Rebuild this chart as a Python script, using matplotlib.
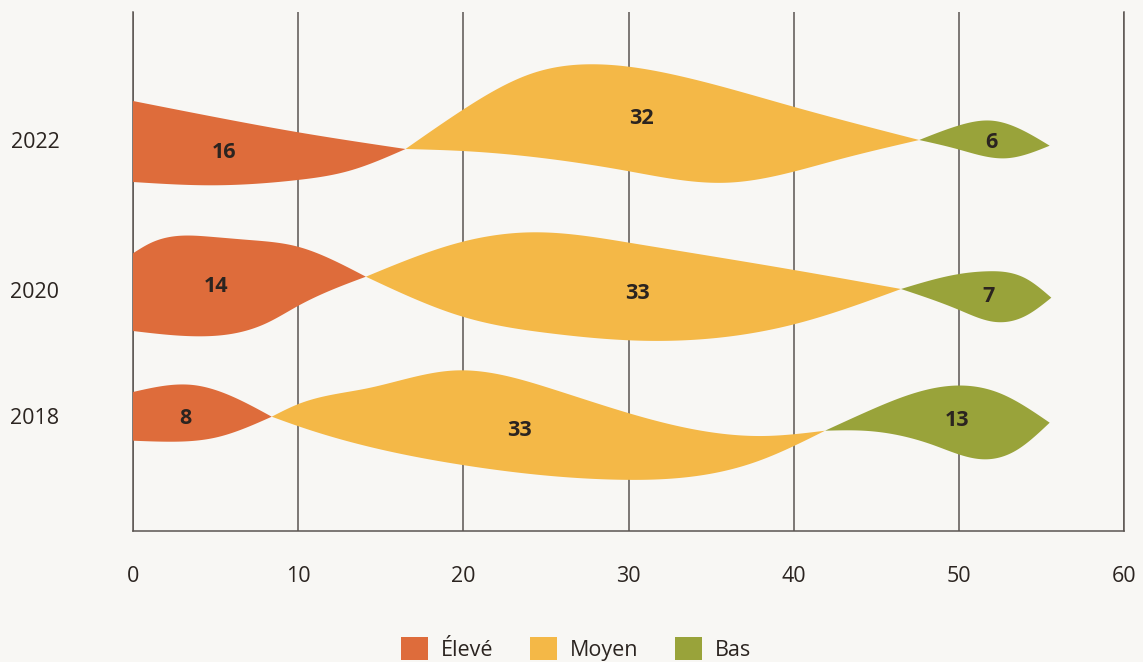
import numpy as np
import matplotlib
matplotlib.use("Agg")
import matplotlib.pyplot as plt
from matplotlib.patches import Patch

# ---------------- data ----------------
years = ["2018", "2020", "2022"]
categories = ["Élevé", "Moyen", "Bas"]
eleve = [8, 14, 16]          # displayed values
moyen = [33, 33, 32]
bas = [13, 7, 6]
# drawn extents of each band
eleve_w = [8.4, 14.1, 16.5]
moyen_w = [33.5, 32.4, 31.1]
bas_w = [13.6, 9.1, 7.9]
x_ticks = [0, 10, 20, 30, 40, 50, 60]

# ---------------- style ----------------
colors = ["#de6c3b", "#f4b847", "#99a33a"]
bg = "#f8f7f4"
txt = "#2b2420"
grid_c = "#5b5551"
FONT = ["Open Sans", "DejaVu Sans"]
FS = 15.5

# vertical layout (inverted axis, units ~ pixels)
row_pos = {"2018": 418, "2020": 292, "2022": 142}

# blob shape profiles: (t along band, offset from row centre)
SHAPES = {
    ("2022", 0): dict(top=[(0, -41), (0.3, -25), (0.6, -10), (1, 7)],
                      bot=[(0, 40), (0.286, 43.3), (0.604, 38), (0.795, 28.7), (1, 7)],
                      lab=(0.333, 11)),
    ("2022", 1): dict(top=[(0, 7), (0.111, -32), (0.247, -68.7), (0.37, -77.7),
                           (0.525, -67), (0.755, -35.3), (1, -2)],
                      bot=[(0, 7), (0.111, 9), (0.432, 29), (0.626, 40.7), (0.84, 18), (1, -2)],
                      lab=(0.459, -24)),
    ("2022", 2): dict(top=[(0, -2), (0.298, -16.3), (0.56, -21.3), (1, 3.7)],
                      bot=[(0, -2), (0.298, 7.3), (0.664, 16.3), (1, 3.7)],
                      lab=(0.55, 0.7)),
    ("2020", 0): dict(top=[(0, -38.7), (0.073, -48.7), (0.33, -55.3), (0.5, -52), (0.708, -45.3),
                           (0.858, -32), (1, -15.3)],
                      bot=[(0, 39), (0.275, 44.3), (0.575, 31), (0.708, 14), (1, -15.3)],
                      lab=(0.356, -5.3)),
    ("2020", 1): dict(top=[(0, -15.3), (0.181, -50.3), (0.314, -59.7), (0.492, -49.3),
                           (0.8, -22), (1, -3)],
                      bot=[(0, -15.3), (0.181, 24.7), (0.344, 41.3), (0.514, 48.7), (0.8, 32.3), (1, -3)],
                      lab=(0.507, 1.3)),
    ("2020", 2): dict(top=[(0, -3), (0.387, -18), (0.573, -20.7), (0.84, -12.7), (1, 5.7)],
                      bot=[(0, -3), (0.387, 18), (0.613, 29.7), (0.84, 23), (1, 5.7)],
                      lab=(0.58, 4.7)),
    ("2018", 0): dict(top=[(0, -26), (0.432, -33), (0.719, -21.3), (1, -1.3)],
                      bot=[(0, 22.7), (0.245, 23.7), (0.604, 19.3), (1, -1.3)],
                      lab=(0.374, 0.3)),
    ("2018", 1): dict(top=[(0, -1.3), (0.047, -13.7), (0.173, -29.7), (0.33, -47.5), (0.503, -29.7),
                           (0.646, -4.7), (0.889, 18), (1, 12.7)],
                      bot=[(0, -1.3), (0.047, 8), (0.345, 47), (0.625, 61.7), (0.876, 43.7), (1, 12.7)],
                      lab=(0.447, 13)),
    ("2018", 2): dict(top=[(0, 12.7), (0.186, -6.3), (0.57, -32.3), (0.779, -24.7), (1, 4.7)],
                      bot=[(0, 12.7), (0.186, 12.9), (0.481, 27), (0.704, 41.3), (0.854, 32), (1, 4.7)],
                      lab=(0.588, 2)),
}


def natural_spline(x, y, xn):
    x = np.asarray(x, float)
    y = np.asarray(y, float)
    n = len(x)
    h = np.diff(x)
    M = np.zeros(n)
    if n > 2:
        A = np.zeros((n - 2, n - 2))
        r = np.zeros(n - 2)
        for i in range(1, n - 1):
            k = i - 1
            A[k, k] = 2 * (h[i - 1] + h[i])
            if k > 0:
                A[k, k - 1] = h[i - 1]
            if k < n - 3:
                A[k, k + 1] = h[i]
            r[k] = 6 * ((y[i + 1] - y[i]) / h[i] - (y[i] - y[i - 1]) / h[i - 1])
        M[1:-1] = np.linalg.solve(A, r)
    idx = np.clip(np.searchsorted(x, xn) - 1, 0, n - 2)
    hh = h[idx]
    a = x[idx + 1] - xn
    b = xn - x[idx]
    return (M[idx] * a**3 / (6 * hh) + M[idx + 1] * b**3 / (6 * hh)
            + (y[idx] / hh - M[idx] * hh / 6) * a + (y[idx + 1] / hh - M[idx + 1] * hh / 6) * b)


fig = plt.figure(figsize=(11.43, 6.62), dpi=100, facecolor=bg)
ax = fig.add_axes([133 / 1143, (662 - 531) / 662, (1124 - 133) / 1143, (531 - 12) / 662])
ax.set_facecolor(bg)
ax.set_xlim(0, 60)
ax.set_ylim(531, 12)

values = [eleve, moyen, bas]
widths = [eleve_w, moyen_w, bas_w]
tt = np.linspace(0, 1, 400)
for i, yr in enumerate(years):
    yc = row_pos[yr]
    start = 0.0
    for c in range(3):
        w = widths[c][i]
        sh = SHAPES[(yr, c)]
        tp = np.array(sh["top"])
        bt = np.array(sh["bot"])
        ytop = yc + natural_spline(tp[:, 0], tp[:, 1], tt)
        ybot = yc + natural_spline(bt[:, 0], bt[:, 1], tt)
        xs = start + tt * w
        ax.fill(np.concatenate([xs, xs[::-1]]), np.concatenate([ytop, ybot[::-1]]),
                color=colors[c], lw=0, zorder=3)
        lt, ld = sh["lab"]
        ax.text(start + lt * w, yc + ld, str(values[c][i]), ha="center", va="center",
                fontsize=FS, fontweight="bold", color=txt, family=FONT, zorder=4)
        start += w

ax.set_xticks(x_ticks)
ax.set_xticklabels([str(v) for v in x_ticks], family=FONT, fontsize=FS, color=txt)
ax.set_yticks([row_pos[y] for y in years])
ax.set_yticklabels(years, family=FONT, fontsize=FS, color=txt, va="center")
ax.tick_params(axis="x", length=0, pad=25)
ax.tick_params(axis="y", length=0, pad=53)
ax.grid(axis="x", color=grid_c, lw=1.1)
ax.set_axisbelow(True)
ax.spines["top"].set_visible(False)
for s in ["left", "right", "bottom"]:
    ax.spines[s].set_color(grid_c)
    ax.spines[s].set_linewidth(1.1)

handles = [Patch(facecolor=colors[k], edgecolor="none", label=categories[k]) for k in range(3)]
leg = fig.legend(handles=handles, loc="center", bbox_to_anchor=(576 / 1143, 1 - 649 / 662), ncol=3,
                 frameon=False, handlelength=1.25, handleheight=1.25, handletextpad=0.6,
                 columnspacing=1.7, borderpad=0, prop={"family": FONT, "size": FS})
for t in leg.get_texts():
    t.set_color(txt)

fig.savefig("out.png", dpi=100, facecolor=bg)
